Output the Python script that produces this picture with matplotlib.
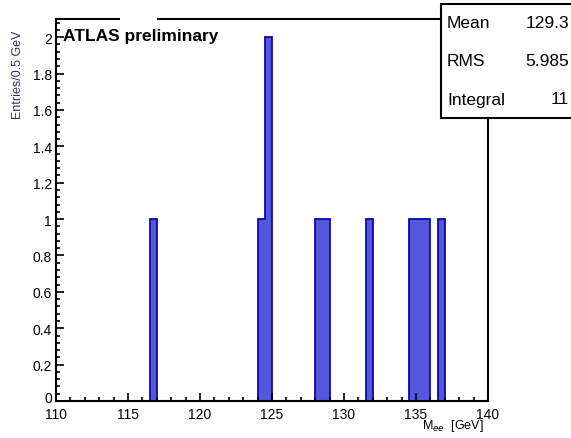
import matplotlib.pyplot as plt
from matplotlib.patches import Rectangle
from matplotlib.ticker import MultipleLocator
from matplotlib.transforms import ScaledTranslation

plt.rcParams['font.family'] = ['Liberation Sans', 'DejaVu Sans']

# event masses (bin centres, 0.5 GeV bins)
masses = [116.75, 124.25, 124.75, 124.75, 128.25, 128.75,
          131.75, 134.75, 135.25, 135.75, 136.75]
bin_lo, bin_hi, bin_w = 110, 140, 0.5
stat_names = ['Mean', 'RMS', 'Integral']
stat_values = ['129.3', '5.985', '11']

fig = plt.figure(figsize=(5.71, 4.39), dpi=100)
ax = fig.add_axes([56/571, 1 - 402/439, 432/571, 382/439])

nb = int((bin_hi - bin_lo) / bin_w)
edges = [bin_lo + i*bin_w for i in range(nb + 1)]
ax.hist(masses, bins=edges, histtype='stepfilled', facecolor='#5656dc',
        edgecolor='#0a0aa8', linewidth=1.3)

ax.set_xlim(bin_lo, bin_hi)
ax.set_ylim(0, 2.1)
ax.xaxis.set_major_locator(MultipleLocator(5))
ax.xaxis.set_minor_locator(MultipleLocator(1))
ax.yaxis.set_minor_locator(MultipleLocator(0.04))
ax.set_yticks([0, 0.2, 0.4, 0.6, 0.8, 1, 1.2, 1.4, 1.6, 1.8, 2])
ax.set_yticklabels(['0', '0.2', '0.4', '0.6', '0.8', '1', '1.2', '1.4', '1.6', '1.8', '2'])
ax.tick_params(which='both', direction='in', top=False, right=False,
               labelsize=10, colors='black', width=1.2)
ax.tick_params(which='major', length=6)
ax.tick_params(which='minor', length=3)
ax.tick_params(axis='x', pad=4)
ax.tick_params(axis='y', pad=3)
for s in ax.spines.values():
    s.set_linewidth(1.5)

# nudge the "0" label up so it doesn't sit on "110"
lbl0 = ax.get_yticklabels()[0]
lbl0.set_transform(lbl0.get_transform() + ScaledTranslation(0, 3/72, fig.dpi_scale_trans))

fig.text(18/571, 1 - 75/439, 'Entries/0.5 GeV', rotation=90, fontsize=9,
         ha='center', va='center', color='#333355')
fig.text(484/571, 1 - 426/439, r'M$_{ee}$  [GeV]', fontsize=9,
         ha='right', va='center')

# gap in the top frame under the title box
fig.patches.append(Rectangle((120/571, 1 - 25/439), 37/571, 10/439,
                             transform=fig.transFigure, facecolor='white',
                             edgecolor='none', zorder=5))
fig.text(63/571, 1 - 36/439, 'ATLAS preliminary', fontsize=12.5,
         fontweight='bold', ha='left', va='center', zorder=6)

# stats box
fig.patches.append(Rectangle((441/571, 1 - 119/439), 140/571, 114/439,
                             transform=fig.transFigure, facecolor='white',
                             edgecolor='black', linewidth=1.5, zorder=5))
for i, (n, v) in enumerate(zip(stat_names, stat_values)):
    y = 1 - (24 + 38*i)/439
    fig.text(447/571, y, n, fontsize=12.5, ha='left', va='center', zorder=6)
    fig.text(569/571, y, v, fontsize=12.5, ha='right', va='center', zorder=6)

fig.savefig('out.png', dpi=100)
